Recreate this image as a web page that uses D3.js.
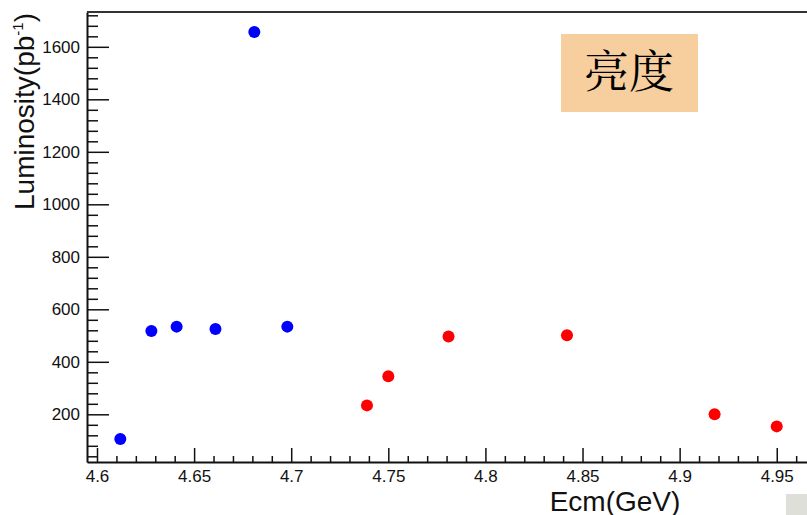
<!DOCTYPE html>
<html>
<head>
<meta charset="utf-8">
<script src="https://cdn.jsdelivr.net/npm/d3@7"></script>
<style>
  body { margin: 0; background: #fff; }
  svg { display: block; }
</style>
</head>
<body>
<svg id="chart" width="807" height="515"></svg>
<script>
// Ecm (GeV) and luminosity (pb^-1)
var blueEcm = [4.612, 4.628, 4.641, 4.661, 4.681, 4.698];
var blueLum = [106, 517, 534, 525, 1656, 534];
var redEcm = [4.739, 4.750, 4.781, 4.842, 4.918, 4.950];
var redLum = [234, 345, 496, 501, 200, 154];

var xTicks = [4.6, 4.65, 4.7, 4.75, 4.8, 4.85, 4.9, 4.95];
var xTickLabels = ["4.6", "4.65", "4.7", "4.75", "4.8", "4.85", "4.9", "4.95"];
var yTicks = [200, 400, 600, 800, 1000, 1200, 1400, 1600];

var xTitle = "Ecm(GeV)";
var yTitle = "Luminosity(pb";
var boxLabel = "亮度";

var svg = d3.select("#chart");
var font = "'Liberation Sans', Arial, Helvetica, sans-serif";

var x = d3.scaleLinear()
    .domain([4.59485, 4.9697])
    .range([87, 815]);

var y = d3.scaleLinear()
    .domain([18.3, 1732.6])
    .range([462, 12]);

// minor ticks
var xMinor = d3.range(4.6, 4.97, 0.01).filter(function (v) {
    return Math.abs(Math.round(v * 20) - v * 20) > 0.01;
});
var yMinor = d3.range(40, 1733, 40).filter(function (v) { return v % 200 !== 0; });

svg.append("g")
    .attr("transform", "translate(0,462)")
    .call(d3.axisBottom(x).tickValues(xMinor).tickSizeInner(-6).tickSizeOuter(0).tickFormat(""))
    .call(function (g) { g.select(".domain").remove(); });

svg.append("g")
    .attr("transform", "translate(87,0)")
    .call(d3.axisLeft(y).tickValues(yMinor).tickSizeInner(-11).tickSizeOuter(0).tickFormat(""))
    .call(function (g) { g.select(".domain").remove(); });

var xAxis = svg.append("g")
    .attr("transform", "translate(0,462)")
    .call(d3.axisBottom(x)
        .tickValues(xTicks)
        .tickSizeInner(-14)
        .tickSizeOuter(0)
        .tickPadding(8)
        .tickFormat(function (d, i) { return xTickLabels[i]; }));

var yAxis = svg.append("g")
    .attr("transform", "translate(87,0)")
    .call(d3.axisLeft(y)
        .tickValues(yTicks)
        .tickSizeInner(-22)
        .tickSizeOuter(0)
        .tickPadding(7)
        .tickFormat(d3.format("d")));

svg.selectAll(".tick line").attr("stroke", "#111").attr("stroke-width", 1.5);
svg.selectAll(".tick text")
    .attr("fill", "#111")
    .style("font-family", font)
    .style("font-size", "17px");
svg.selectAll(".domain").attr("stroke", "#111").attr("stroke-width", 2);

// top frame line
svg.append("line")
    .attr("x1", x.range()[0]).attr("x2", x.range()[1])
    .attr("y1", y.range()[1]).attr("y2", y.range()[1])
    .attr("stroke", "#333")
    .attr("stroke-width", 2);

// data points
svg.append("g").selectAll("circle")
    .data(blueEcm)
    .join("circle")
    .attr("cx", function (d) { return x(d); })
    .attr("cy", function (d, i) { return y(blueLum[i]); })
    .attr("r", 6)
    .attr("fill", "#0000ff");

svg.append("g").selectAll("circle")
    .data(redEcm)
    .join("circle")
    .attr("cx", function (d) { return x(d); })
    .attr("cy", function (d, i) { return y(redLum[i]); })
    .attr("r", 6)
    .attr("fill", "#ff0000");

// axis titles
svg.append("text")
    .attr("x", 615)
    .attr("y", 511)
    .attr("text-anchor", "middle")
    .attr("fill", "#111")
    .style("font-family", font)
    .style("font-size", "28px")
    .text(xTitle);

var yt = svg.append("text")
    .attr("transform", "translate(34,210) rotate(-90)")
    .attr("text-anchor", "start")
    .attr("fill", "#111")
    .style("font-family", font)
    .style("font-size", "28px");
yt.append("tspan").text(yTitle);
yt.append("tspan").attr("dy", -11).style("font-size", "15px").text("-1");
yt.append("tspan").attr("dy", 11).text(")");

// label box
svg.append("rect")
    .attr("x", 561).attr("y", 34)
    .attr("width", 137).attr("height", 78)
    .attr("fill", "#f7ce9e");

svg.append("text")
    .attr("x", 629)
    .attr("y", 88)
    .attr("text-anchor", "middle")
    .attr("fill", "#000")
    .style("font-family", "'Noto Serif CJK SC', 'Noto Sans CJK SC', serif")
    .style("font-size", "45px")
    .text(boxLabel);

// grey corner patch
svg.append("rect")
    .attr("x", 786).attr("y", 494)
    .attr("width", 21).attr("height", 21)
    .attr("fill", "#dddfd8");
</script>
</body>
</html>
